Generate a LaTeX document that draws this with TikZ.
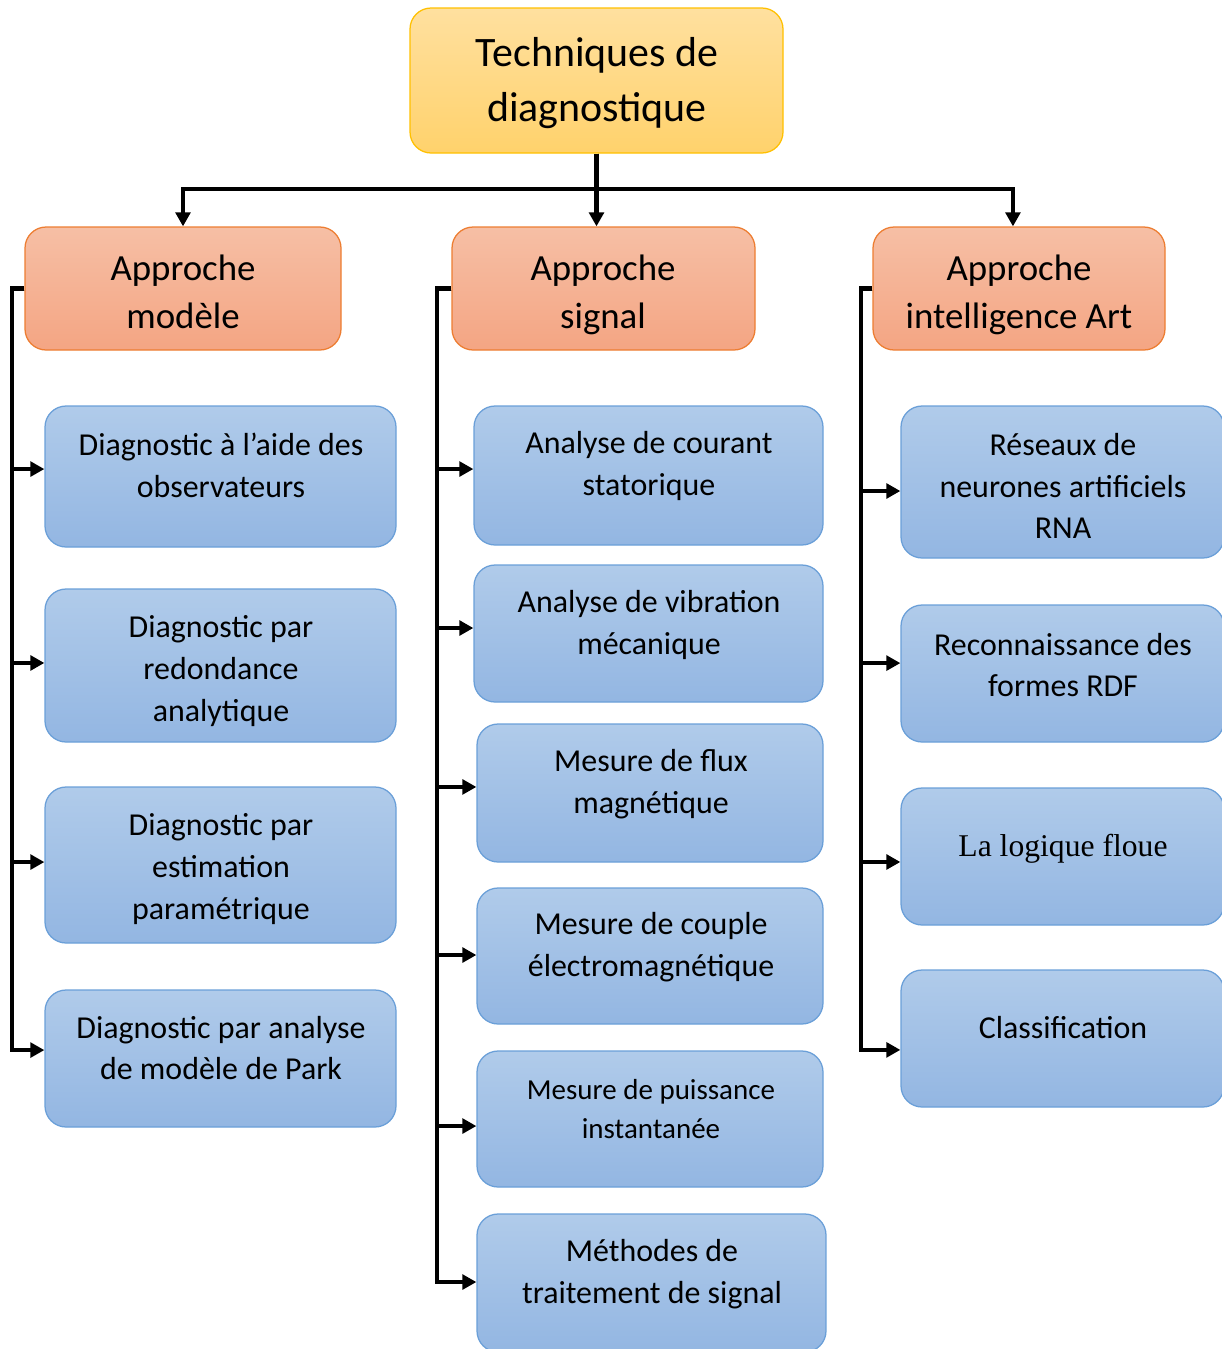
\documentclass[tikz,border=0pt]{standalone}
\usepackage{fontspec}
\setmainfont{Carlito}
\newfontfamily\serifalt{Liberation Serif}
\usetikzlibrary{arrows.meta,fit}

\definecolor{bluetop}{HTML}{B0CBEA}
\definecolor{bluebot}{HTML}{93B6E2}
\definecolor{blueline}{HTML}{6A9FD8}
\definecolor{oratop}{HTML}{F6BFA5}
\definecolor{orabot}{HTML}{F4A583}
\definecolor{oraline}{HTML}{ED7D31}
\definecolor{yeltop}{HTML}{FFE09F}
\definecolor{yelbot}{HTML}{FFD26C}
\definecolor{yelline}{HTML}{FFC000}

\tikzset{
  box/.style={rectangle, rounded corners=15pt, inner sep=0pt, line width=0.9pt},
  rootbox/.style={box, draw=yelline, top color=yeltop, bottom color=yelbot},
  appbox/.style={box, draw=oraline, top color=oratop, bottom color=orabot},
  leafbox/.style={box, draw=blueline, top color=bluetop, bottom color=bluebot},
  txt/.style={align=center, inner sep=0pt, font=\fontsize{22.7}{29.8}\selectfont},
  apptxt/.style={txt, font=\fontsize{26.2}{34}\selectfont},
  arr/.style={line width=2.9pt, line join=miter, -{Triangle[length=10pt,width=10.5pt]}}
}

\begin{document}
\begin{tikzpicture}[x=0.025cm, y=-0.025cm]

    \useasboundingbox (0,0) rectangle (1222,1349);
    \clip (0,0) rectangle (1222,1349);

    % Root box
    \node[rootbox, fit={(410,8) (783,153)}] (tech) {};
    \node[txt, font=\fontsize{29.8}{39}\selectfont] (techt) at (597,83) {Techniques de\\diagnostique};

    % Approaches
    \node[appbox, fit={(25,227) (341,350)}] (am) {};
    \node[apptxt] (amt) at (183,292) {Approche\\modèle};
    \node[appbox, fit={(452,227) (755,350)}] (as) {};
    \node[apptxt] (ast) at (603,295) {Approche\\signal};
    \node[appbox, fit={(873,227) (1165,350)}] (ai) {};
    \node[apptxt] (ait) at (1019,295) {Approche\\intelligence Art};

    % Model based methods
    \node[leafbox, fit={(45,406) (396,547)}] (l1) {};
    \node[txt] (l1t) at (221,465) {Diagnostic à l’aide des\\observateurs};
    \node[leafbox, fit={(45,589) (396,742)}] (l2) {};
    \node[txt] (l2t) at (221,671) {Diagnostic par\\redondance\\analytique};
    \node[leafbox, fit={(45,787) (396,943)}] (l3) {};
    \node[txt] (l3t) at (221,869) {Diagnostic par\\estimation\\paramétrique};
    \node[leafbox, fit={(45,990) (396,1127)}] (l4) {};
    \node[txt] (l4t) at (221,1048) {Diagnostic par analyse\\de modèle de Park};

    % Signal based methods
    \node[leafbox, fit={(474,406) (823,545)}] (m1) {};
    \node[txt] (m1t) at (649,466) {Analyse de courant\\statorique};
    \node[leafbox, fit={(474,565) (823,702)}] (m2) {};
    \node[txt] (m2t) at (649,625) {Analyse de vibration\\mécanique};
    \node[leafbox, fit={(477,724) (823,862)}] (m3) {};
    \node[txt] (m3t) at (651,784) {Mesure de flux\\magnétique};
    \node[leafbox, fit={(477,888) (823,1024)}] (m4) {};
    \node[txt] (m4t) at (651,947) {Mesure de couple\\électromagnétique};
    \node[leafbox, fit={(477,1051) (823,1187)}] (m5) {};
    \node[txt, font=\fontsize{20.6}{27.6}\selectfont] (m5t) at (651,1109) {Mesure de puissance\\instantanée};
    \node[leafbox, fit={(477,1214) (826,1352)}] (m6) {};
    \node[txt] (m6t) at (652,1274) {Méthodes de\\traitement de signal};

    % AI based methods
    \node[leafbox, fit={(901,406) (1224,558)}] (r1) {};
    \node[txt] (r1t) at (1063,486) {Réseaux de\\neurones artificiels\\RNA};
    \node[leafbox, fit={(901,605) (1224,742)}] (r2) {};
    \node[txt] (r2t) at (1063,665) {Reconnaissance des\\formes RDF};
    \node[leafbox, fit={(901,788) (1224,925)}] (r3) {};
    \node[txt, font=\serifalt\fontsize{22.5}{29}\selectfont] (r3t) at (1063,849) {La logique floue};
    \node[leafbox, fit={(901,970) (1224,1107)}] (r4) {};
    \node[txt] (r4t) at (1063,1028) {Classification};

    % Connectors from the root
    \coordinate (hub) at (597,189);
    \draw[arr] (tech.south) |- (am.north |- hub) -- (am.north);
    \draw[arr] (tech.south) -- (tech.south |- as.north);
    \draw[arr] (tech.south) |- ([xshift=-4.3pt]ai.north |- hub) -- ([xshift=-4.3pt]ai.north);

    % Buses (\d shifts the arrow off the box middle)
    \coordinate (lbus) at (12,289);
    \coordinate (mbus) at (437,289);
    \coordinate (rbus) at (861,289);
    \foreach \b/\d in {l1/5.3pt, l2/1.8pt, l3/2.1pt, l4/6pt}
        \draw[arr] (am.west) -| ([yshift=\d]lbus |- \b.west) -- ([yshift=\d]\b.west);
    \foreach \b/\d in {m1/4.6pt, m2/3.9pt, m3/4.3pt, m4/0.7pt, m5/-5pt, m6/0.7pt}
        \draw[arr] (as.west) -| ([yshift=\d]mbus |- \b.west) -- ([yshift=\d]\b.west);
    \foreach \b/\d in {r1/-6.4pt, r2/7.4pt, r3/-3.9pt, r4/-8.1pt}
        \draw[arr] (ai.west) -| ([yshift=\d]rbus |- \b.west) -- ([yshift=\d]\b.west);

\end{tikzpicture}
\end{document}
